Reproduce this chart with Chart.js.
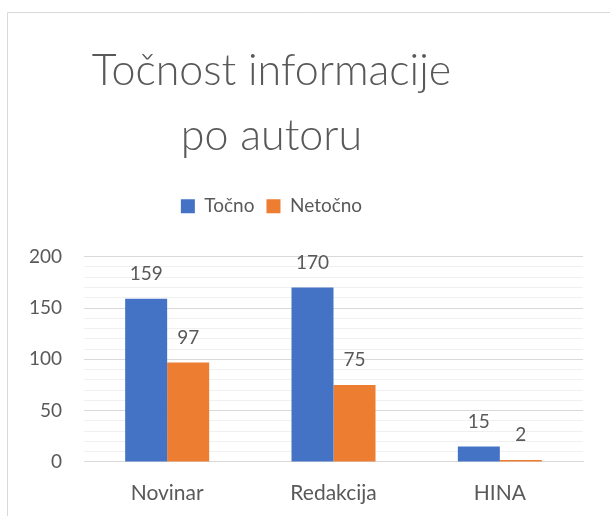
<!DOCTYPE html>
<html>
<head>
    <meta charset="utf-8">
    <title>Točnost informacije po autoru</title>
    <script src="https://cdn.jsdelivr.net/npm/chart.js"></script>
    <style>
        html, body { margin: 0; padding: 0; background: #fff; }
        #chartContainer { width: 610px; height: 516px; }
    </style>
</head>
<body>

    <div id="chartContainer">
        <canvas id="dataChart"></canvas>
    </div>

    <script>
        // Chart data
        var categories = ["Novinar", "Redakcija", "HINA"];
        var tocno = [159, 170, 15];
        var netocno = [97, 75, 2];
        var titleLines = ["Točnost informacije", "po autoru"];

        var textColor = "#595959";
        var fontFamily = "Lato, 'Open Sans', sans-serif";

        // Light frame around the chart area (cropped at right and bottom)
        var framePlugin = {
            id: "frame",
            beforeDraw: function (chart) {
                var ctx = chart.ctx;
                ctx.save();
                ctx.strokeStyle = "#d9d9d9";
                ctx.lineWidth = 1;
                ctx.beginPath();
                ctx.moveTo(7.5, chart.height);
                ctx.lineTo(7.5, 12.5);
                ctx.lineTo(chart.width, 12.5);
                ctx.stroke();
                ctx.restore();
            }
        };

        // Extra room under the legend, and title/legend centred a bit left
        var headerTweak = {
            id: "headerTweak",
            beforeInit: function (chart) {
                var origFit = chart.legend.fit;
                chart.legend.fit = function () {
                    origFit.bind(chart.legend)();
                    this.height += 31;
                };
            },
            afterLayout: function (chart) {
                [chart.titleBlock, chart.legend].forEach(function (box) {
                    box.left -= 20;
                    box.right -= 20;
                });
            }
        };

        // Value labels above every bar
        var valueLabels = {
            id: "valueLabels",
            afterDatasetsDraw: function (chart) {
                var ctx = chart.ctx;
                ctx.save();
                ctx.fillStyle = textColor;
                ctx.font = "19px " + fontFamily;
                ctx.textAlign = "center";
                ctx.textBaseline = "middle";
                chart.data.datasets.forEach(function (ds, i) {
                    chart.getDatasetMeta(i).data.forEach(function (bar, j) {
                        ctx.fillText(ds.data[j], bar.x, bar.y - 25);
                    });
                });
                ctx.restore();
            }
        };

        new Chart(document.getElementById("dataChart"), {
            type: "bar",
            data: {
                labels: categories,
                datasets: [
                    {
                        label: "Točno",
                        data: tocno,
                        backgroundColor: "#4472C4",
                        categoryPercentage: 0.505,
                        barPercentage: 1
                    },
                    {
                        label: "Netočno",
                        data: netocno,
                        backgroundColor: "#ED7D31",
                        categoryPercentage: 0.505,
                        barPercentage: 1
                    }
                ]
            },
            options: {
                responsive: true,
                maintainAspectRatio: false,
                animation: false,
                layout: {
                    padding: { left: 0, right: 27, top: 38, bottom: 0 }
                },
                plugins: {
                    title: {
                        display: true,
                        text: titleLines,
                        color: textColor,
                        font: { family: fontFamily, size: 43, weight: 300, lineHeight: 1.52 },
                        padding: { top: 0, bottom: 16 }
                    },
                    legend: {
                        position: "top",
                        labels: {
                            color: textColor,
                            font: { family: fontFamily, size: 19 },
                            boxWidth: 14,
                            boxHeight: 14,
                            padding: 12
                        }
                    },
                    tooltip: { enabled: false }
                },
                scales: {
                    x: {
                        grid: { display: false },
                        border: { color: "#d9d9d9" },
                        ticks: {
                            color: textColor,
                            font: { family: fontFamily, size: 21, lineHeight: 1.05 },
                            padding: 12
                        }
                    },
                    y: {
                        min: 0,
                        max: 200,
                        border: { display: false },
                        afterFit: function (scale) { scale.width = 84; },
                        grid: {
                            drawTicks: false,
                            color: function (c) {
                                return c.tick.value % 50 === 0 ? "#d9d9d9" : "#f0f0f0";
                            }
                        },
                        ticks: {
                            stepSize: 10,
                            autoSkip: false,
                            padding: 22,
                            color: textColor,
                            font: { family: fontFamily, size: 19 },
                            callback: function (v) {
                                return v % 50 === 0 ? v : "";
                            }
                        }
                    }
                }
            },
            plugins: [framePlugin, headerTweak, valueLabels]
        });
    </script>

</body>
</html>
